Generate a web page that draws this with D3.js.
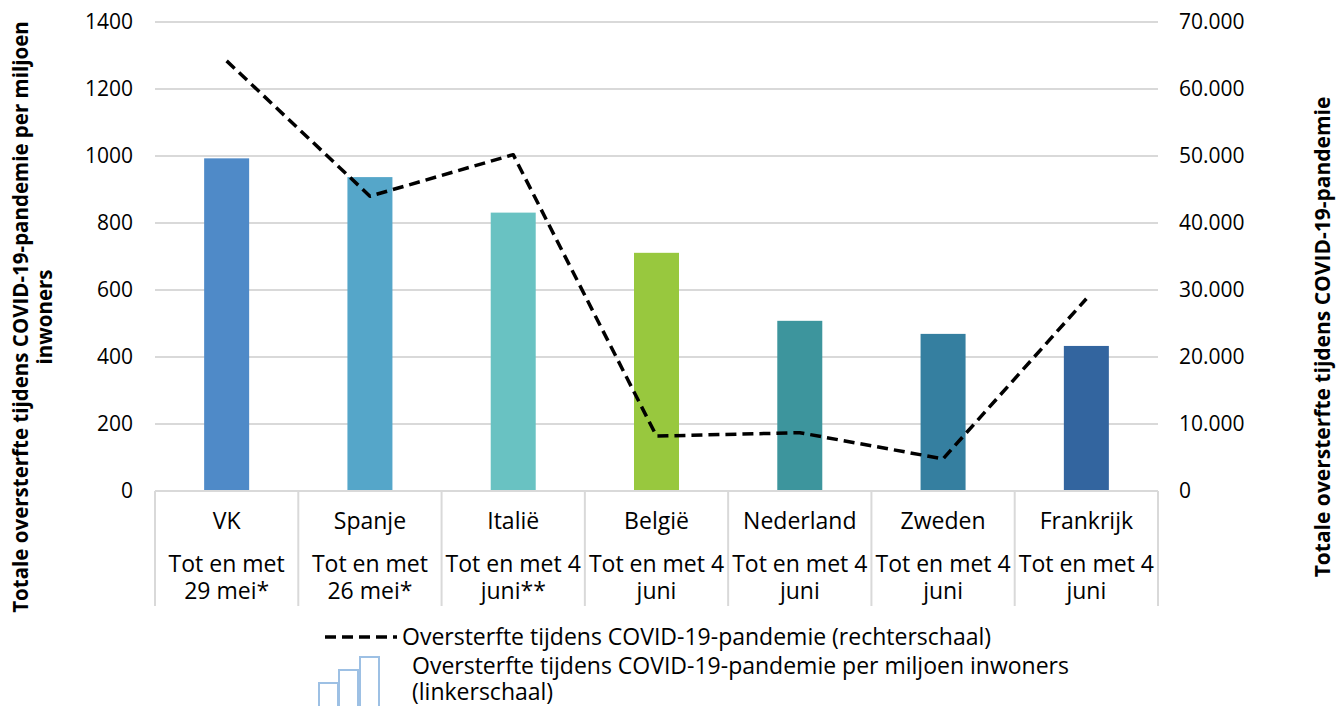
<!DOCTYPE html>
<html>
<head>
<meta charset="utf-8">
<script src="https://cdn.jsdelivr.net/npm/d3@7"></script>
<style>
  html, body { margin: 0; padding: 0; background: #fff; }
  svg { display: block; font-family: "Open Sans", "Noto Sans", sans-serif; }
</style>
</head>
<body>
<svg id="chart" width="1342" height="706"></svg>
<script>
// Countries and the period each figure covers
const countries = ["VK", "Spanje", "Italië", "België", "Nederland", "Zweden", "Frankrijk"];
const periods = [
  ["Tot en met", "29 mei*"],
  ["Tot en met", "26 mei*"],
  ["Tot en met 4", "juni**"],
  ["Tot en met 4", "juni"],
  ["Tot en met 4", "juni"],
  ["Tot en met 4", "juni"],
  ["Tot en met 4", "juni"]
];
// Excess deaths per million inhabitants (left axis)
const perMillion = [993, 937, 831, 711, 508, 469, 433];
// Total excess deaths (right axis)
const totalExcess = [64200, 44000, 50200, 8200, 8700, 4800, 28700];
const barColors = ["#4f8ac8", "#55a6c9", "#69c2c2", "#98c83e", "#3d959d", "#357fa0", "#33659f"];
const leftTicks = [0, 200, 400, 600, 800, 1000, 1200, 1400];
const rightTicks = [0, 10000, 20000, 30000, 40000, 50000, 60000, 70000];

const svg = d3.select("#chart");
const plotLeft = 155, plotRight = 1158, plotTop = 22, plotBottom = 491;

const x = d3.scaleBand().domain(countries).range([plotLeft, plotRight]).paddingInner(0).paddingOuter(0);
const yL = d3.scaleLinear().domain([0, 1400]).range([plotBottom, plotTop]);
const yR = d3.scaleLinear().domain([0, 70000]).range([plotBottom, plotTop]);
const fmtR = v => d3.format(",")(v).replace(/,/g, ".");

// Horizontal gridlines
svg.append("g")
  .selectAll("line")
  .data(leftTicks.filter(t => t > 0))
  .join("line")
  .attr("x1", plotLeft).attr("x2", plotRight)
  .attr("y1", d => yL(d)).attr("y2", d => yL(d))
  .attr("stroke", "#d9d9d9").attr("stroke-width", 2);

// Left axis labels
const axL = svg.append("g").attr("transform", `translate(${plotLeft},0)`)
  .call(d3.axisLeft(yL).tickValues(leftTicks).tickFormat(d3.format("d")).tickSize(0).tickPadding(22));
axL.select(".domain").remove();
axL.selectAll("text").attr("font-size", 21).attr("fill", "#000")
  .attr("font-family", "Open Sans, sans-serif");

// Right axis labels
const axR = svg.append("g").attr("transform", `translate(${plotRight},0)`)
  .call(d3.axisRight(yR).tickValues(rightTicks).tickFormat(fmtR).tickSize(0).tickPadding(21));
axR.select(".domain").remove();
axR.selectAll("text").attr("font-size", 21).attr("fill", "#000")
  .attr("font-family", "Open Sans, sans-serif");

// Bars
const barW = 45;
svg.append("g")
  .selectAll("rect")
  .data(countries)
  .join("rect")
  .attr("x", d => x(d) + x.bandwidth() / 2 - barW / 2)
  .attr("width", barW)
  .attr("y", (d, i) => yL(perMillion[i]))
  .attr("height", (d, i) => yL(0) - yL(perMillion[i]))
  .attr("fill", (d, i) => barColors[i]);

// Category axis: baseline and cell dividers
const cat = svg.append("g");
cat.append("line")
  .attr("x1", plotLeft).attr("x2", plotRight)
  .attr("y1", plotBottom).attr("y2", plotBottom)
  .attr("stroke", "#d9d9d9").attr("stroke-width", 2);
const dividers = countries.map(c => x(c)).concat([plotRight]);
cat.selectAll("line.div")
  .data(dividers)
  .join("line")
  .attr("class", "div")
  .attr("x1", d => d).attr("x2", d => d)
  .attr("y1", plotBottom).attr("y2", 606)
  .attr("stroke", "#d9d9d9").attr("stroke-width", 2);

const labels = cat.selectAll("g.lab")
  .data(countries)
  .join("g")
  .attr("class", "lab")
  .attr("transform", d => `translate(${x(d) + x.bandwidth() / 2},0)`)
  .attr("font-family", "Open Sans, sans-serif")
  .attr("font-size", 23)
  .attr("text-anchor", "middle")
  .attr("fill", "#000");
labels.append("text").attr("y", 529).text(d => d);
labels.append("text").attr("y", 572).text((d, i) => periods[i][0]);
labels.append("text").attr("y", 599).text((d, i) => periods[i][1]);

// Total excess deaths line
const line = d3.line()
  .x((d, i) => x(countries[i]) + x.bandwidth() / 2)
  .y(d => yR(d));
svg.append("path")
  .datum(totalExcess)
  .attr("d", line)
  .attr("fill", "none")
  .attr("stroke", "#000")
  .attr("stroke-width", 3.5)
  .attr("stroke-dasharray", "11,6")
  .attr("stroke-linejoin", "round");

// Axis titles
svg.append("text")
  .attr("transform", "translate(28,317) rotate(-90)")
  .attr("text-anchor", "middle")
  .attr("font-weight", "bold").attr("font-size", 20.5)
  .text("Totale oversterfte tijdens  COVID-19-pandemie per miljoen");
svg.append("text")
  .attr("transform", "translate(52,317) rotate(-90)")
  .attr("text-anchor", "middle")
  .attr("font-weight", "bold").attr("font-size", 20.5)
  .text("inwoners");
svg.append("text")
  .attr("transform", "translate(1330,337) rotate(-90)")
  .attr("text-anchor", "middle")
  .attr("font-weight", "bold").attr("font-size", 21)
  .text("Totale oversterfte tijdens COVID-19-pandemie");

// Legend
const lg = svg.append("g").attr("font-family", "Open Sans, sans-serif").attr("font-size", 23);
lg.append("line")
  .attr("x1", 325).attr("x2", 397).attr("y1", 637).attr("y2", 637)
  .attr("stroke", "#000").attr("stroke-width", 3.5).attr("stroke-dasharray", "11,6");
lg.append("text").attr("x", 402).attr("y", 645).text("Oversterfte tijdens COVID-19-pandemie (rechterschaal)");
const icon = [[319, 683], [339, 670], [360, 657]];
lg.selectAll("rect.icon")
  .data(icon)
  .join("rect")
  .attr("class", "icon")
  .attr("x", d => d[0]).attr("y", d => d[1])
  .attr("width", 19).attr("height", d => 710 - d[1])
  .attr("fill", "#fff").attr("stroke", "#9dc0e4").attr("stroke-width", 2);
lg.append("text").attr("x", 412).attr("y", 674).text("Oversterfte tijdens COVID-19-pandemie per miljoen inwoners");
lg.append("text").attr("x", 412).attr("y", 700).text("(linkerschaal)");
</script>
</body>
</html>
